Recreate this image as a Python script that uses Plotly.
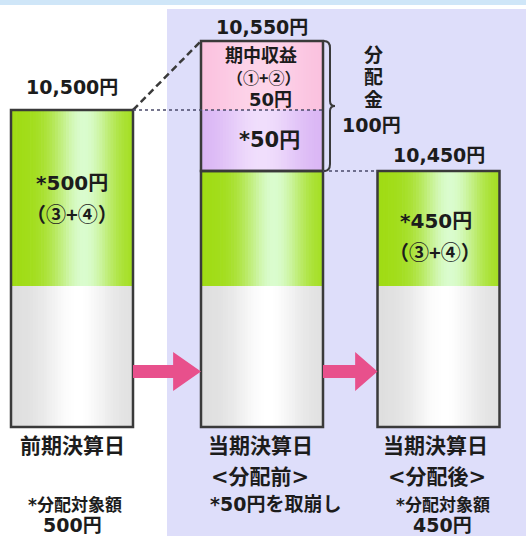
import numpy as np
import plotly.graph_objects as go

# ---------------- data ----------------
categories = ["前期決算日", "当期決算日", "当期決算日"]
category_notes = ["", "<分配前>", "<分配後>"]
principal = [10000, 10000, 10000]          # gray base
distributable = [500, 450, 450]            # green (③+④)
drawdown = [0, 50, 0]                      # purple  *50円 (取崩し)
period_income = [0, 50, 0]                 # pink  期中収益 (①+②)
nav_labels = ["10,500円", "10,550円", "10,450円"]
distributable_labels = ["*500円", "", "*450円"]
distributable_sub = ["（③+④）", "", "（③+④）"]
income_labels = ["期中収益", "（①+②）", "50円"]
drawdown_label = "*50円"
distribution_labels = ["分", "配", "金", "100円"]
footnotes = [["*分配対象額", "500円"], ["*50円を取崩し"], ["*分配対象額", "450円"]]

# ---------------- schematic (broken) value axis ----------------
KNOT_YEN = [0, 10000, 10450, 10500, 10550]
KNOT_DISP = [0, 141, 256, 317, 386]


def vmap(v):
    return float(np.interp(v, KNOT_YEN, KNOT_DISP))


W, H = 526, 536
BASE_PX = 427                      # pixel row of the value 0
BAR_X = [72, 262, 438.5]           # bar centres
BAR_W = 122
FONT = "DejaVu Sans, Noto Sans CJK JP"
CJK = "Noto Sans CJK JP"
INK = "#1c1c1c"
EDGE = "#3a3a3a"


def py(px):
    return BASE_PX - px


def mix(c1, c2, a):
    return "rgb(%d,%d,%d)" % tuple(round(c1[k] + (c2[k] - c1[k]) * a) for k in range(3))


N = 44


def gradient_trace(bases, heights, edge, centre, peak=0.58, spread=0.3):
    xs, ws, bs, ys, cs = [], [], [], [], []
    for xc, b, h in zip(BAR_X, bases, heights):
        if h <= 0:
            continue
        left = xc - BAR_W / 2
        for i in range(N):
            t = (i + 0.5) / N
            xs.append(left + t * BAR_W)
            ws.append(BAR_W / N + 0.7)
            bs.append(b)
            ys.append(h)
            a = np.exp(-((t - peak) / spread) ** 2)
            cs.append(mix(edge, centre, a))
    return go.Bar(x=xs, y=ys, base=bs, width=ws,
                  marker=dict(color=cs, line=dict(width=0)),
                  hoverinfo="skip", showlegend=False)


lvl_p = [vmap(p) for p in principal]
lvl_g = [vmap(p + d) for p, d in zip(principal, distributable)]
lvl_dd = [vmap(p + d + r) for p, d, r in zip(principal, distributable, drawdown)]
lvl_top = [vmap(p + d + r + i) for p, d, r, i in zip(principal, distributable, drawdown, period_income)]

fig = go.Figure()

# gray base
fig.add_trace(gradient_trace([0, 0, 0], lvl_p, (222, 222, 222), (255, 255, 255), 0.55, 0.28))
# green distributable
fig.add_trace(gradient_trace(lvl_p, [g - p for g, p in zip(lvl_g, lvl_p)],
                             (160, 220, 20), (218, 252, 206), 0.6, 0.25))
# purple drawdown
fig.add_trace(gradient_trace(lvl_g, [d - g for d, g in zip(lvl_dd, lvl_g)],
                             (216, 178, 244), (240, 222, 252), 0.5, 0.32))
# pink income
fig.add_trace(gradient_trace(lvl_dd, [t - d for t, d in zip(lvl_top, lvl_dd)],
                             (250, 188, 220), (253, 212, 233), 0.5, 0.4))

# outlines: lower box (principal + distributable)
fig.add_trace(go.Bar(x=BAR_X, y=lvl_g, base=[0, 0, 0], width=[BAR_W] * 3,
                     marker=dict(color="rgba(0,0,0,0)", line=dict(color=EDGE, width=2.5)),
                     hoverinfo="skip", showlegend=False))
# outline: upper box (drawdown + income)
up_x = [x for x, t, g in zip(BAR_X, lvl_top, lvl_g) if t > g]
up_b = [g for t, g in zip(lvl_top, lvl_g) if t > g]
up_h = [t - g for t, g in zip(lvl_top, lvl_g) if t > g]
fig.add_trace(go.Bar(x=up_x, y=up_h, base=up_b, width=[BAR_W] * len(up_x),
                     marker=dict(color="rgba(0,0,0,0)", line=dict(color=EDGE, width=2.5)),
                     hoverinfo="skip", showlegend=False))

r0 = BAR_X[0] + BAR_W / 2
l1 = BAR_X[1] - BAR_W / 2
r1 = BAR_X[1] + BAR_W / 2
l2 = BAR_X[2] - BAR_W / 2

# dashed diagonal from previous NAV to current top
fig.add_trace(go.Scatter(x=[r0, l1], y=[lvl_top[0], lvl_top[1]], mode="lines",
                         line=dict(color=EDGE, width=2.5, dash="7px,4px"),
                         hoverinfo="skip", showlegend=False))
# dotted level of previous NAV across bar 2
fig.add_trace(go.Scatter(x=[r0, r1], y=[lvl_top[0], lvl_top[0]], mode="lines",
                         line=dict(color="#4a4a6a", width=1.6, dash="dot"),
                         hoverinfo="skip", showlegend=False))
# dotted level after distribution
fig.add_trace(go.Scatter(x=[r1, l2], y=[lvl_top[2], lvl_top[2]], mode="lines",
                         line=dict(color="#4a4a6a", width=1.6, dash="dot"),
                         hoverinfo="skip", showlegend=False))

# arrows between bars
ARROW_Y = 55.5
for xa, xb in [(r0, l1), (r1, l2)]:
    L = xb - xa
    hb = xb - 0.41 * L
    xs = [xa, hb, hb, xb, hb, hb, xa, xa]
    ys = [ARROW_Y + 6.5, ARROW_Y + 6.5, ARROW_Y + 19.5, ARROW_Y, ARROW_Y - 19.5,
          ARROW_Y - 6.5, ARROW_Y - 6.5, ARROW_Y + 6.5]
    fig.add_trace(go.Scatter(x=xs, y=ys, mode="lines", fill="toself",
                             fillcolor="#e8508c", line=dict(width=0, color="#e8508c"),
                             hoverinfo="skip", showlegend=False))

# brace for 分配金
top, bot = lvl_top[1], lvl_g[1]
mid = (top + bot) / 2
bx = r1 + 1
brace = (f"M {bx},{top} Q {bx+6},{top} {bx+6},{top-7} L {bx+6},{mid+5} "
         f"Q {bx+6},{mid} {bx+11},{mid} Q {bx+6},{mid} {bx+6},{mid-5} "
         f"L {bx+6},{bot+7} Q {bx+6},{bot} {bx},{bot}")
fig.add_shape(type="path", path=brace, line=dict(color=EDGE, width=2), layer="above")

# backgrounds
fig.add_shape(type="rect", x0=167, x1=W, y0=py(H), y1=py(9), fillcolor="#dedefa",
              line=dict(width=0), layer="below")
fig.add_shape(type="rect", x0=0, x1=W, y0=py(5), y1=py(0), fillcolor="#cfe6f8",
              line=dict(width=0), layer="below")


def label(x, px, text, size=18, family=FONT):
    fig.add_annotation(x=x, y=py(px), text=text, showarrow=False,
                       xanchor="center", yanchor="middle", borderpad=0,
                       font=dict(size=size, color=INK, family=family, weight="bold"))


# NAV labels above bars
nav_px = [87, 27, 155]
for x, p, t in zip(BAR_X, nav_px, nav_labels):
    label(x, p, t, 19)

# inside the bars
label(72, 183, distributable_labels[0], 20)
label(72, 213, distributable_sub[0], 20, CJK)
label(436, 221, distributable_labels[2], 20)
label(435, 251, distributable_sub[2], 20, CJK)
label(261, 55, income_labels[0], 18)
label(263, 77, income_labels[1], 16, CJK)
label(270, 99.5, income_labels[2], 18)
label(269, 140, drawdown_label, 21)

# 分配金 100円
for p, t in zip([55, 77, 100], distribution_labels[:3]):
    label(373, p, t, 19)
label(371, 125, distribution_labels[3], 19)

# categories
for x, t in zip([72, 260, 435], categories):
    label(x, 446, t, 21)
for x, t in zip([72, 260, 437], category_notes):
    if t:
        label(x, 477, t, 21)
fn_pos = [[(75, 505), (72, 525)], [(275, 504)], [(443, 505), (442, 525)]]
fn_size = [[17, 19], [19], [17, 19]]
for notes, poss, sizes in zip(footnotes, fn_pos, fn_size):
    for t, (x, p), s in zip(notes, poss, sizes):
        label(x, p, t, s)

fig.update_layout(
    width=W, height=H,
    margin=dict(l=0, r=0, t=0, b=0),
    paper_bgcolor="white", plot_bgcolor="white",
    barmode="overlay",
    xaxis=dict(range=[0, W], visible=False, fixedrange=True),
    yaxis=dict(range=[py(H), py(0)], visible=False, fixedrange=True),
    showlegend=False,
)

fig.write_html("out.html", config={"displayModeBar": False},
               post_script="document.body.style.margin='0';document.body.style.overflow='hidden';")
